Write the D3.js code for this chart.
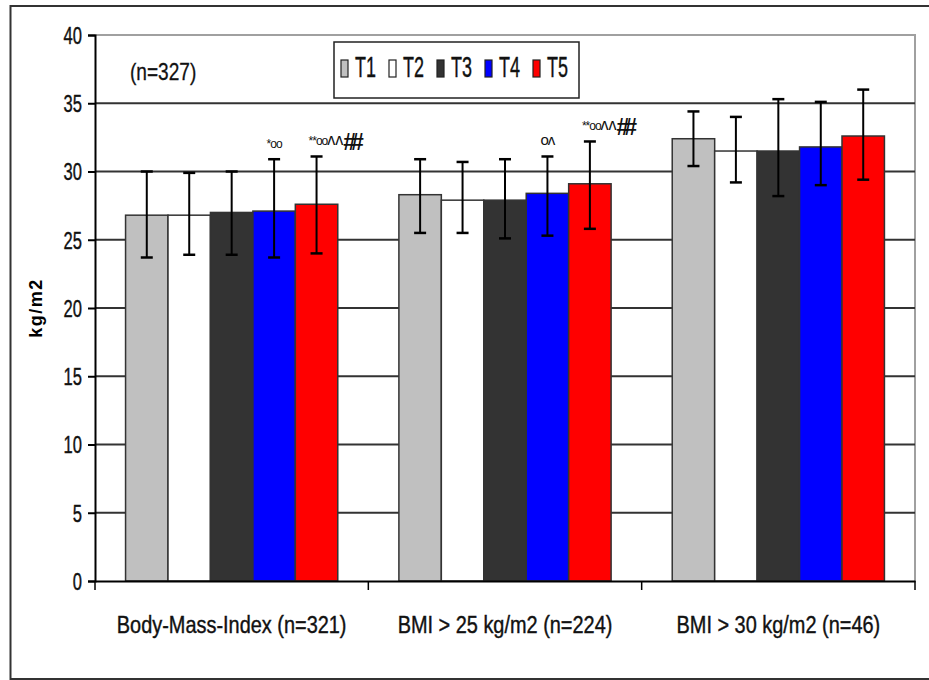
<!DOCTYPE html>
<html>
<head>
<meta charset="utf-8">
<script src="https://cdn.jsdelivr.net/npm/d3@7"></script>
<style>
  body { margin: 0; background: #fff; }
  svg text { font-family: "Liberation Sans", Arial, sans-serif; }
</style>
</head>
<body>
<svg id="chart" width="929" height="680"></svg>
<script>
// chart data
const categories = ['Body-Mass-Index (n=321)', 'BMI > 25 kg/m2 (n=224)', 'BMI > 30 kg/m2 (n=46)']
const series = ['T1', 'T2', 'T3', 'T4', 'T5']
const colors = ['#c0c0c0', '#ffffff', '#333333', '#0000ff', '#ff0000']
const means = [
  [26.8, 26.8, 27.0, 27.1, 27.6],
  [28.3, 27.9, 27.9, 28.4, 29.1],
  [32.4, 31.5, 31.5, 31.8, 32.6]
]
const errLow = [
  [23.7, 23.9, 23.9, 23.7, 24.0],
  [25.5, 25.5, 25.1, 25.3, 25.8],
  [30.4, 29.2, 28.2, 29.0, 29.4]
]
const errHigh = [
  [30.0, 29.9, 30.0, 30.9, 31.1],
  [30.9, 30.7, 30.9, 31.1, 32.2],
  [34.4, 34.0, 35.3, 35.1, 36.0]
]
const yTicks = [0, 5, 10, 15, 20, 25, 30, 35, 40]
// significance marks: group index, series index, text parts
const marks = [
  {g: 0, s: 3, parts: ['*oo']},
  {g: 0, s: 4, parts: ['**oo', 'ʌʌ', '##']},
  {g: 1, s: 3, parts: ['oʌ']},
  {g: 1, s: 4, parts: ['**oo', 'ʌʌ', '##']}
]

const svg = d3.select('#chart')

// outer frame (no right edge visible)
svg.append('path')
  .attr('d', 'M940,6 H10.5 V679 H940')
  .attr('fill', 'none').attr('stroke', '#333').attr('stroke-width', 2)

const plotL = 95, plotR = 915, plotT = 35, plotB = 581

const x0 = d3.scaleBand().domain(categories).range([plotL, plotR]).padding(0)
const x1 = d3.scaleBand().domain(series).range([0, x0.bandwidth()]).paddingInner(0).paddingOuter(0.72)
const y = d3.scaleLinear().domain([0, 40]).range([plotB, plotT])

// plot border top and right (gray)
svg.append('path')
  .attr('d', `M${plotL},${y(40)} H${plotR} V${plotB}`)
  .attr('fill', 'none').attr('stroke', '#a0a0a0').attr('stroke-width', 2)

// gridlines
svg.append('g').selectAll('line')
  .data(yTicks.filter(d => d > 0 && d < 40))
  .join('line')
    .attr('x1', plotL).attr('x2', plotR)
    .attr('y1', d => y(d)).attr('y2', d => y(d))
    .attr('stroke', '#333').attr('stroke-width', 2)

// bars
const groups = svg.append('g').selectAll('g')
  .data(categories)
  .join('g')
    .attr('transform', d => `translate(${x0(d)},0)`)

groups.selectAll('rect')
  .data((d, gi) => series.map((s, si) => ({s, si, v: means[gi][si]})))
  .join('rect')
    .attr('x', d => x1(d.s))
    .attr('y', d => y(d.v))
    .attr('width', x1.bandwidth())
    .attr('height', d => y(0) - y(d.v))
    .attr('fill', d => colors[d.si])
    .attr('stroke', '#333').attr('stroke-width', 1.5)

// error bars
const errs = groups.selectAll('g.err')
  .data((d, gi) => series.map((s, si) => ({s, lo: errLow[gi][si], hi: errHigh[gi][si]})))
  .join('g').attr('class', 'err')
    .attr('transform', d => `translate(${x1(d.s) + x1.bandwidth() / 2},0)`)
errs.append('line')
  .attr('y1', d => y(d.lo)).attr('y2', d => y(d.hi))
  .attr('stroke', '#000').attr('stroke-width', 2)
errs.selectAll('line.cap')
  .data(d => [d.lo, d.hi])
  .join('line').attr('class', 'cap')
    .attr('x1', -6).attr('x2', 6)
    .attr('y1', d => y(d)).attr('y2', d => y(d))
    .attr('stroke', '#000').attr('stroke-width', 2.5)

// axes
const yAxis = svg.append('g')
  .attr('transform', `translate(${plotL},0)`)
  .call(d3.axisLeft(y).tickValues(yTicks).tickSize(7).tickPadding(6))
yAxis.select('.domain').attr('stroke', '#000').attr('stroke-width', 2)
yAxis.selectAll('.tick line').attr('stroke', '#000').attr('stroke-width', 2)
yAxis.selectAll('.tick text')
  .attr('x', 0).attr('dy', '0.36em')
  .attr('transform', 'translate(-13,0) scale(0.72,1)')
  .attr('font-size', 23).attr('fill', '#111')
  .attr('stroke', '#111').attr('stroke-width', 0.4)

const xAxis = svg.append('g')
  .attr('transform', `translate(0,${plotB})`)
  .call(d3.axisBottom(x0).tickSize(0).tickPadding(0))
xAxis.select('.domain').attr('stroke', '#000').attr('stroke-width', 2)
xAxis.selectAll('.tick text')
  .attr('y', 0).attr('dy', 0)
  .attr('transform', 'translate(0,52) scale(0.83,1)')
  .attr('font-size', 24).attr('fill', '#111')
  .attr('stroke', '#111').attr('stroke-width', 0.4)
// category separators
svg.append('g').selectAll('line')
  .data(categories.map(c => x0(c)).concat([plotR]))
  .join('line')
    .attr('x1', d => d).attr('x2', d => d)
    .attr('y1', plotB).attr('y2', plotB + 9)
    .attr('stroke', '#000').attr('stroke-width', 1.5)

// y label
svg.append('text')
  .attr('transform', `translate(42,${y(20)}) rotate(-90)`)
  .attr('text-anchor', 'middle')
  .attr('font-size', 18).attr('font-weight', 'bold')
  .attr('letter-spacing', 1.5)
  .text('kg/m2')

// n label
svg.append('text')
  .attr('transform', 'translate(130,80) scale(0.83,1)')
  .attr('font-size', 23).attr('fill', '#111')
  .attr('stroke', '#111').attr('stroke-width', 0.3)
  .text('(n=327)')

// significance marks
marks.forEach(m => {
  const cx = x0(categories[m.g]) + x1(series[m.s]) + x1.bandwidth() / 2
  const t = svg.append('text')
    .attr('y', y(errHigh[m.g][m.s]) - 11)
    .attr('fill', '#111')
  if (m.parts.length === 1) {
    t.attr('x', cx).attr('text-anchor', 'middle')
  } else {
    t.attr('x', cx - 8)
  }
  const sizes = [12, 16, 23]
  m.parts.forEach((p, i) => {
    t.append('tspan')
      .attr('font-size', m.parts.length === 1 ? (p.includes('ʌ') ? 15 : 12) : sizes[i])
      .attr('font-weight', i === 2 ? 'bold' : 'normal')
      .attr('letter-spacing', i === 2 ? -5 : (i === 0 ? -1 : 0))
      .attr('dy', i === 2 ? 5 : 0)
      .text(p)
  })
})

// legend
const legend = svg.append('g').attr('transform', 'translate(334,42)')
legend.append('rect')
  .attr('width', 245).attr('height', 56)
  .attr('fill', '#fff').attr('stroke', '#222').attr('stroke-width', 1.5)
const items = legend.selectAll('g')
  .data(series)
  .join('g')
    .attr('transform', (d, i) => `translate(${7 + i * 48},0)`)
items.append('rect')
  .attr('x', 0).attr('y', 18).attr('width', 7).attr('height', 17)
  .attr('fill', (d, i) => colors[i]).attr('stroke', '#222').attr('stroke-width', 1.2)
items.append('text')
  .attr('transform', 'translate(14,35) scale(0.62,1)')
  .attr('font-size', 29).attr('fill', '#111')
  .attr('stroke', '#111').attr('stroke-width', 0.4)
  .text(d => d)
</script>
</body>
</html>
